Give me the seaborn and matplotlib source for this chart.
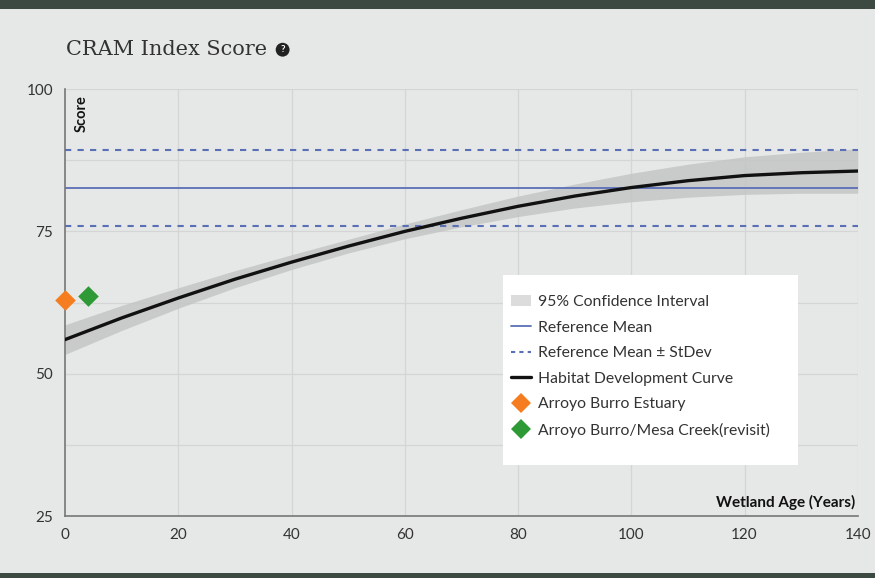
import matplotlib
matplotlib.use("Agg")
import matplotlib.pyplot as plt
import seaborn as sns
import pandas as pd
import numpy as np
from matplotlib.lines import Line2D
from matplotlib.patches import Patch, Rectangle

# Habitat development curve (score vs wetland age) with 95% confidence band
ages = [0, 10, 20, 30, 40, 50, 60, 70, 80, 90, 100, 110, 120, 130, 140]
curve = [56.0, 59.8, 63.3, 66.6, 69.6, 72.4, 75.0, 77.3, 79.4, 81.2, 82.7, 83.9, 84.8, 85.3, 85.6]
ci_lower = [53.4, 57.6, 61.5, 65.1, 68.3, 71.2, 73.7, 75.8, 77.6, 79.1, 80.2, 81.0, 81.5, 81.7, 81.7]
ci_upper = [58.6, 62.0, 65.1, 68.1, 70.9, 73.6, 76.3, 78.8, 81.2, 83.3, 85.2, 86.8, 88.1, 88.9, 89.5]

# Reference site statistics
ref_mean = 82.6
ref_sd = 6.7

# Assessed sites
site_names = ["Arroyo Burro Estuary", "Arroyo Burro/Mesa Creek(revisit)"]
site_ages = [0, 4]
site_scores = [63.0, 63.7]
site_colors = ["#f57c1f", "#2e9a35"]

x_ticks = [0, 20, 40, 60, 80, 100, 120, 140]
y_ticks = [25, 50, 75, 100]

sns.set_theme(style="white")
plt.rcParams["font.family"] = ["Lato", "DejaVu Sans"]

bg = "#e5e8e7"
fig = plt.figure(figsize=(8.75, 5.78), dpi=100, facecolor=bg)
ax = fig.add_axes([0.0743, 0.107, 0.906, 0.739])
ax.set_facecolor(bg)

# grid
for v in np.arange(25, 100.1, 12.5):
    ax.axhline(v, color="#d3d6d5", lw=0.9, zorder=0)
for v in x_ticks[1:]:
    ax.axvline(v, color="#d3d6d5", lw=0.9, zorder=0)

df = pd.DataFrame({"age": ages, "score": curve, "lo": ci_lower, "hi": ci_upper})
ax.fill_between(df["age"], df["lo"], df["hi"], color="#c4c6c6", alpha=0.85, lw=0, zorder=1)

blue = "#5b6fb6"
ax.axhline(ref_mean, color=blue, lw=1.3, zorder=2)
ax.axhline(ref_mean + ref_sd, color=blue, lw=1.5, ls=(0, (3, 3)), zorder=2)
ax.axhline(ref_mean - ref_sd, color=blue, lw=1.5, ls=(0, (3, 3)), zorder=2)

sns.lineplot(data=df, x="age", y="score", color="#111111", lw=2.4, ax=ax, zorder=3)

sites = pd.DataFrame({"name": site_names, "age": site_ages, "score": site_scores})
for (_, r), c in zip(sites.iterrows(), site_colors):
    ax.scatter(r["age"], r["score"], marker="D", s=110, color=c, zorder=5, clip_on=False, lw=0)

ax.set_xlim(0, 140)
ax.set_ylim(25, 100)
ax.set_xticks(x_ticks)
ax.set_yticks(y_ticks)
ax.tick_params(axis="both", length=5, width=1, color="#666666", labelsize=11,
               labelcolor="#333333", direction="out")
for s in ["top", "right"]:
    ax.spines[s].set_visible(False)
for s in ["left", "bottom"]:
    ax.spines[s].set_color("#777777")
    ax.spines[s].set_linewidth(1.2)
ax.set_xlabel("")
ax.set_ylabel("")

ax.text(0.012, 0.985, "Score", rotation=90, ha="left", va="top", fontsize=10.5,
        fontweight="bold", color="#111111", transform=ax.transAxes)
ax.text(0.997, 0.015, "Wetland Age (Years)", ha="right", va="bottom", fontsize=11,
        fontweight="bold", color="#111111", transform=ax.transAxes)

fig.text(0.075, 0.915, "CRAM Index Score", fontsize=15, family=["DejaVu Serif"],
         color="#333333", va="center", ha="left")
fig.text(0.323, 0.914, "?", fontsize=7, fontweight="bold", color="white", ha="center",
         va="center", bbox=dict(boxstyle="circle,pad=0.25", fc="#222222", ec="none"))

# white legend panel
ax.add_patch(Rectangle((0.553, 0.119), 0.372, 0.445, transform=ax.transAxes,
                       facecolor="white", edgecolor="none", zorder=6))

handles = [
    Patch(facecolor="#dcdcdc", edgecolor="none"),
    Line2D([0], [0], color=blue, lw=1.3),
    Line2D([0], [0], color=blue, lw=1.5, ls=(0, (2, 2))),
    Line2D([0], [0], color="#111111", lw=2.4),
    Line2D([0], [0], marker="D", color="none", markerfacecolor=site_colors[0], markersize=10, markeredgewidth=0),
    Line2D([0], [0], marker="D", color="none", markerfacecolor=site_colors[1], markersize=10, markeredgewidth=0),
]
labels = ["95% Confidence Interval", "Reference Mean", "Reference Mean \u00b1 StDev",
          "Habitat Development Curve"] + site_names
leg = ax.legend(handles, labels, loc="upper left", bbox_to_anchor=(0.562, 0.517),
                frameon=False, fontsize=11.3, handlelength=1.3,
                handletextpad=0.45, labelspacing=0.73, borderpad=0, borderaxespad=0)
leg.set_zorder(7)
for t in leg.get_texts():
    t.set_color("#333333")

# dark frame bands at top and bottom of the panel
fig.add_artist(Rectangle((0, 0.985), 1, 0.015, transform=fig.transFigure, color="#3d4a42", lw=0))
fig.add_artist(Rectangle((0, 0), 1, 0.008, transform=fig.transFigure, color="#3d4a42", lw=0))

fig.savefig("out.png", dpi=100, facecolor=bg)
